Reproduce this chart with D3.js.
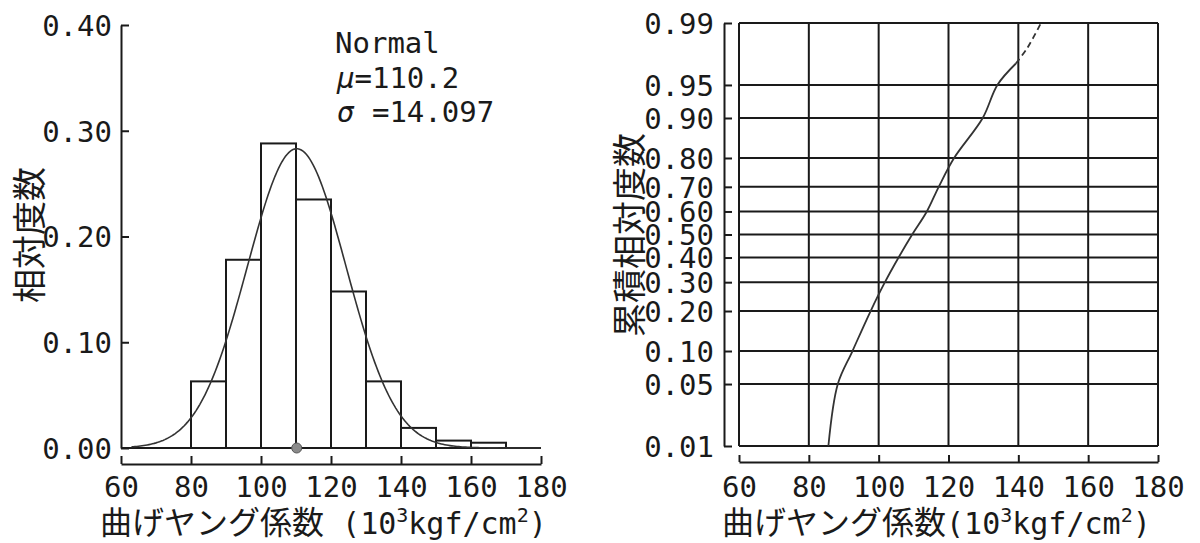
<!DOCTYPE html>
<html>
<head>
<meta charset="utf-8">
<script src="https://cdn.jsdelivr.net/npm/d3@7"></script>
<style>
  html, body { margin: 0; padding: 0; background: #fff; }
  svg { display: block; }
</style>
</head>
<body>
<svg id="chart" width="1200" height="543"></svg>
<script>
// ---- data ----------------------------------------------------------------
// histogram of bending Young's modulus (class width 10)
const binStarts = [80, 90, 100, 110, 120, 130, 140, 150, 160];
const binFreq   = [0.063, 0.178, 0.288, 0.235, 0.148, 0.063, 0.019, 0.007, 0.005];
const binWidth  = 10;

// fitted normal distribution
const fitName  = "Normal";
const fitMu    = 110.2;
const fitSigma = 14.097;

// cumulative relative frequency (normal probability paper)
const cdfX = [85.6, 88.3, 92.5, 97.7, 101.8, 105.7, 109.6, 113.8, 117.2, 121.6, 129.8, 134.0, 139.3, 142.6, 146.5];
const cdfP = [0.01, 0.05, 0.10, 0.20, 0.30, 0.40, 0.50, 0.60, 0.70, 0.80, 0.90, 0.95, 0.97, 0.98, 0.99];

// axes
const xTicks    = [60, 80, 100, 120, 140, 160, 180];
const relTicks  = [0, 0.1, 0.2, 0.3, 0.4];
const probTicks = [0.01, 0.05, 0.10, 0.20, 0.30, 0.40, 0.50, 0.60, 0.70, 0.80, 0.90, 0.95, 0.99];
const xTitleMain = "曲げヤング係数";
const yTitleLeft = "相対度数";
const yTitleRight = "累積相対度数";

// ---- helpers -------------------------------------------------------------
const MONO = "'DejaVu Sans Mono', 'Liberation Mono', monospace";
const CJK  = "'Noto Sans CJK JP', 'Noto Sans CJK SC', sans-serif";
const INK  = "#1a1a1a";

// inverse standard normal CDF (Acklam) used for the probability axis
function probit(p) {
  const a = [-3.969683028665376e+01, 2.209460984245205e+02, -2.759285104469687e+02,
             1.383577518672690e+02, -3.066479806614716e+01, 2.506628277459239e+00];
  const b = [-5.447609879822406e+01, 1.615858368580409e+02, -1.556989798598866e+02,
             6.680131188771972e+01, -1.328068155288572e+01];
  const c = [-7.784894002430293e-03, -3.223964580411365e-01, -2.400758277161838e+00,
             -2.549732539343734e+00, 4.374664141464968e+00, 2.938163982698783e+00];
  const d = [7.784695709041462e-03, 3.224671290700398e-01, 2.445134137142996e+00,
             3.754408661907416e+00];
  const pl = 0.02425, ph = 1 - pl;
  let q, r;
  if (p < pl) {
    q = Math.sqrt(-2 * Math.log(p));
    return (((((c[0]*q+c[1])*q+c[2])*q+c[3])*q+c[4])*q+c[5]) / ((((d[0]*q+d[1])*q+d[2])*q+d[3])*q+1);
  }
  if (p <= ph) {
    q = p - 0.5; r = q * q;
    return (((((a[0]*r+a[1])*r+a[2])*r+a[3])*r+a[4])*r+a[5])*q / (((((b[0]*r+b[1])*r+b[2])*r+b[3])*r+b[4])*r+1);
  }
  q = Math.sqrt(-2 * Math.log(1 - p));
  return -(((((c[0]*q+c[1])*q+c[2])*q+c[3])*q+c[4])*q+c[5]) / ((((d[0]*q+d[1])*q+d[2])*q+d[3])*q+1);
}

// normal density scaled to relative frequency per class
function fittedFreq(x) {
  const z = (x - fitMu) / fitSigma;
  return binWidth * Math.exp(-0.5 * z * z) / (fitSigma * Math.sqrt(2 * Math.PI));
}

const svg = d3.select("#chart");

function styleAxis(g) {
  g.selectAll("path.domain").attr("stroke", INK).attr("stroke-width", 2);
  g.selectAll(".tick line").attr("stroke", INK).attr("stroke-width", 2);
  g.selectAll(".tick text").attr("fill", INK).attr("font-family", MONO).attr("font-size", 29);
}

function xTitle(x0, spaced) {
  const t = svg.append("text").attr("x", x0).attr("y", 533.5).attr("fill", INK);
  t.append("tspan").attr("font-family", CJK).attr("font-size", 32).text(xTitleMain);
  t.append("tspan").attr("font-family", MONO).attr("font-size", 30).text(spaced ? " (10" : "(10");
  t.append("tspan").attr("font-family", MONO).attr("font-size", 20).attr("dy", -12).text("3");
  t.append("tspan").attr("font-family", MONO).attr("font-size", 30).attr("dy", 12).text("kgf/cm");
  t.append("tspan").attr("font-family", MONO).attr("font-size", 20).attr("dy", -12).text("2");
  t.append("tspan").attr("font-family", MONO).attr("font-size", 30).attr("dy", 12).text(")");
}

function yTitle(cx, cy, label) {
  svg.append("text")
    .attr("transform", `translate(${cx},${cy}) rotate(-90)`)
    .attr("text-anchor", "middle")
    .attr("dominant-baseline", "central")
    .attr("font-family", CJK).attr("font-size", 34).attr("fill", INK)
    .text(label);
}

// ---- left: histogram with fitted normal curve ----------------------------
const xL = d3.scaleLinear().domain([60, 180]).range([121, 541]);
const yL = d3.scaleLinear().domain([0, 0.4]).range([448, 25]);

const gLY = svg.append("g").attr("transform", `translate(${xL(60)},0)`)
  .call(d3.axisRight(yL).tickValues(relTicks).tickSize(8).tickSizeOuter(0)
        .tickFormat(d3.format(".2f")));
styleAxis(gLY);
gLY.selectAll(".tick text").attr("x", -9).attr("dy", "0.36em").attr("text-anchor", "end");

const gLX = svg.append("g").attr("transform", "translate(0,464)")
  .call(d3.axisTop(xL).tickValues(xTicks).tickSize(8).tickSizeOuter(0));
styleAxis(gLX);
gLX.selectAll(".tick text").attr("y", 33).attr("dy", 0);

// baseline of the histogram
svg.append("line")
  .attr("x1", xL(60)).attr("x2", xL(180)).attr("y1", yL(0)).attr("y2", yL(0))
  .attr("stroke", INK).attr("stroke-width", 2);

svg.append("g").selectAll("rect").data(binStarts).join("rect")
  .attr("x", d => xL(d))
  .attr("width", d => xL(d + binWidth) - xL(d))
  .attr("y", (d, i) => yL(binFreq[i]))
  .attr("height", (d, i) => yL(0) - yL(binFreq[i]))
  .attr("fill", "none").attr("stroke", INK).attr("stroke-width", 2);

const curveXs = d3.range(63, 180.01, 0.5);
svg.append("path")
  .datum(curveXs)
  .attr("d", d3.line().x(d => xL(d)).y(d => yL(fittedFreq(d))))
  .attr("fill", "none").attr("stroke", "#333").attr("stroke-width", 1.6);

svg.append("circle")
  .attr("cx", xL(fitMu)).attr("cy", yL(0)).attr("r", 5)
  .attr("fill", "#8a8a8a").attr("stroke", "#555").attr("stroke-width", 1);

const info = svg.append("g").attr("font-family", MONO).attr("font-size", 29).attr("fill", INK);
info.append("text").attr("x", 335).attr("y", 53).text(fitName);
const mu = info.append("text").attr("x", 337).attr("y", 88);
mu.append("tspan").attr("font-style", "italic").text("μ");
mu.append("tspan").text("=" + fitMu.toFixed(1));
const sg = info.append("text").attr("x", 337).attr("y", 122);
sg.append("tspan").attr("font-style", "italic").text("σ");
sg.append("tspan").text(" =" + fitSigma.toFixed(3));

yTitle(27, 235, yTitleLeft);
xTitle(100, true);

// ---- right: normal probability plot --------------------------------------
const xR = d3.scaleLinear().domain([60, 180]).range([739, 1158]);
const zR = d3.scaleLinear().domain([probit(0.01), probit(0.99)]).range([446, 23]);
const yR = p => zR(probit(p));

// grid
svg.append("g").selectAll("line").data(probTicks).join("line")
  .attr("x1", xR(60)).attr("x2", xR(180))
  .attr("y1", d => yR(d)).attr("y2", d => yR(d))
  .attr("stroke", INK).attr("stroke-width", 2);
svg.append("g").selectAll("line").data(xTicks).join("line")
  .attr("x1", d => xR(d)).attr("x2", d => xR(d))
  .attr("y1", yR(0.99)).attr("y2", yR(0.01))
  .attr("stroke", INK).attr("stroke-width", 2);

// probability axis, drawn through the library axis on the probit scale
const gRY = svg.append("g").attr("transform", "translate(724,0)")
  .call(d3.axisRight(zR).tickValues(probTicks.map(probit)).tickSize(8).tickSizeOuter(0)
        .tickFormat((d, i) => probTicks[i].toFixed(2)));
styleAxis(gRY);
gRY.selectAll(".tick text").attr("x", -10).attr("dy", "0.36em").attr("text-anchor", "end");

const gRX = svg.append("g").attr("transform", "translate(0,462)")
  .call(d3.axisTop(xR).tickValues(xTicks).tickSize(7).tickSizeOuter(0));
styleAxis(gRX);
gRX.selectAll(".tick text").attr("y", 35).attr("dy", 0);

// cumulative curve: solid in the body, dashed in the upper tail
const cdfPts = cdfX.map((x, i) => [x, cdfP[i]]);
const cdfLine = d3.line().x(d => xR(d[0])).y(d => yR(d[1])).curve(d3.curveCatmullRom.alpha(0.5));
const splitAt = cdfP.indexOf(0.97);
svg.append("path").datum(cdfPts.slice(0, splitAt + 1)).attr("d", cdfLine)
  .attr("fill", "none").attr("stroke", "#333").attr("stroke-width", 1.8);
svg.append("path").datum(cdfPts.slice(splitAt)).attr("d", cdfLine)
  .attr("fill", "none").attr("stroke", "#333").attr("stroke-width", 1.8)
  .attr("stroke-dasharray", "6,4");

yTitle(627, 235, yTitleRight);
xTitle(722, false);
</script>
</body>
</html>
